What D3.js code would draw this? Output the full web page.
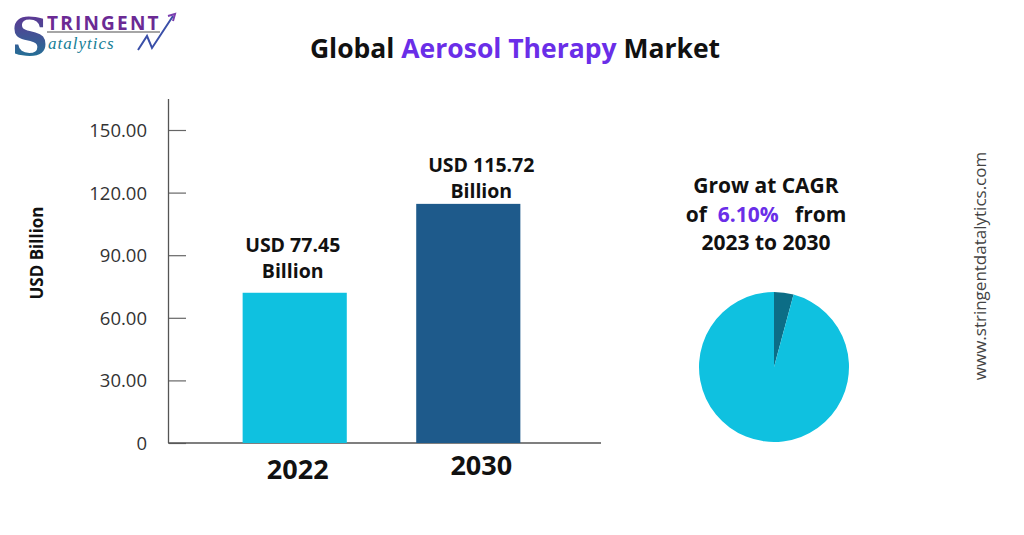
<!DOCTYPE html>
<html><head><meta charset="utf-8">
<script src="https://cdn.jsdelivr.net/npm/d3@7"></script>
<style>body{margin:0;background:#fff}svg{display:block}</style>
</head><body>
<svg id="c" width="1024" height="535"></svg>
<script>
const categories = ["2022", "2030"];
const barValues = [72.0, 114.6];
const barLabels = ["USD 77.45", "USD 115.72"];
const yTicks = [0, 30, 60, 90, 120, 150];
const pieValues = [4.2, 95.8];
const cagrText = "6.10%";
const barColors = ["#0FC1E0", "#1E5A8B"];
const pieColors = ["#0C6D86", "#0FC1E0"];

const svg = d3.select("#c");
const FONT = "'Open Sans', Lato, sans-serif";

// Logo
const lg = svg.append("g");
const defs = svg.append("defs");
const grad = defs.append("linearGradient").attr("id","sg").attr("x1","0").attr("y1","0").attr("x2","0").attr("y2","1");
grad.append("stop").attr("offset","0%").attr("stop-color","#6b2a94");
grad.append("stop").attr("offset","100%").attr("stop-color","#157e96");
lg.append("text").attr("x",11).attr("y",55).attr("font-family","'DejaVu Serif', serif").attr("font-size",52).attr("font-weight","bold").attr("fill","url(#sg)").text("S");
lg.append("text").attr("x",47).attr("y",30).attr("font-family",FONT).attr("font-weight",700).attr("font-size",19).attr("letter-spacing",2.2).attr("fill","#6b2a94").text("TRINGENT");
lg.append("line").attr("x1",47).attr("x2",160).attr("y1",32).attr("y2",32).attr("stroke","#888").attr("stroke-width",1.5);
lg.append("text").attr("x",48).attr("y",49).attr("font-family","'Liberation Serif', serif").attr("font-style","italic").attr("font-size",17).attr("letter-spacing",1).attr("fill","#157e96").text("atalytics");
lg.append("path").attr("d","M138,50 L147,36 L152,48 L173,16").attr("fill","none").attr("stroke","#3a4fa8").attr("stroke-width",2);
lg.append("path").attr("d","M168,16 L175,14 L173,21").attr("fill","none").attr("stroke","#7b3fb0").attr("stroke-width",2);

// Title
const t = svg.append("text").attr("x",515).attr("y",58).attr("text-anchor","middle")
  .attr("font-family",FONT).attr("font-weight",700).attr("font-size",26.5).attr("fill","#111");
t.append("tspan").text("Global ");
t.append("tspan").attr("fill","#6a2ee8").text("Aerosol Therapy");
t.append("tspan").text(" Market");

// Scales
const y = d3.scaleLinear().domain([0,150]).range([443,130]);
const x = d3.scaleBand().domain(categories).range([168,595]).paddingInner(0.4).paddingOuter(0.43);

// Y axis
const yAxis = d3.axisRight(y).tickValues(yTicks).tickSize(17).tickFormat(d => d===0 ? "0" : d3.format(".2f")(d));
const ya = svg.append("g").attr("transform","translate(169,0)").call(yAxis);
ya.select(".domain").remove();
ya.selectAll(".tick line").attr("stroke","#666").attr("stroke-width",1.2);
ya.selectAll(".tick text").attr("x",-22).attr("text-anchor","end").attr("font-family",FONT).attr("font-size",18.5).attr("fill","#333").attr("dy","0.35em");
svg.append("line").attr("x1",168.5).attr("x2",168.5).attr("y1",99).attr("y2",443).attr("stroke","#555").attr("stroke-width",1.3);
svg.append("line").attr("x1",168).attr("x2",601).attr("y1",443).attr("y2",443).attr("stroke","#555").attr("stroke-width",1.3);

svg.append("text").attr("transform","translate(43,253) rotate(-90)").attr("text-anchor","middle")
  .attr("font-family",FONT).attr("font-weight",700).attr("font-size",17).attr("fill","#111").text("USD Billion");

// Bars
svg.selectAll("rect.bar").data(categories).join("rect").attr("class","bar")
  .attr("x", d => x(d)).attr("width", x.bandwidth())
  .attr("y", (d,i) => y(barValues[i])).attr("height", (d,i) => y(0) - y(barValues[i]))
  .attr("fill", (d,i) => barColors[i]);

// Bar labels
categories.forEach((c,i) => {
  const cx = x(c) + x.bandwidth()/2 + (i===0 ? -2 : 13);
  const top = y(barValues[i]);
  const off = i===0 ? 41 : 32;
  const g = svg.append("text").attr("text-anchor","middle").attr("font-family",FONT).attr("font-weight",700).attr("font-size",19.5).attr("fill","#111");
  g.append("tspan").attr("x",cx).attr("y",top-off).text(barLabels[i]);
  g.append("tspan").attr("x",cx).attr("y",top-off+26).text("Billion");
  svg.append("text").attr("x", x(c) + x.bandwidth()/2 + (i===0 ? 3 : 13)).attr("y", i===0 ? 479 : 475).attr("text-anchor","middle")
    .attr("font-family",FONT).attr("font-weight",700).attr("font-size",27).attr("fill","#111").text(c);
});

// CAGR text
const ct = svg.append("text").attr("text-anchor","middle").attr("font-family",FONT).attr("font-weight",700).attr("font-size",21).attr("fill","#111");
ct.append("tspan").attr("x",766).attr("y",193).text("Grow at CAGR");
ct.append("tspan").attr("x",766).attr("y",222).text("of\u00a0\u00a0");
ct.append("tspan").attr("fill","#6a2ee8").text(cagrText);
ct.append("tspan").text("\u00a0\u00a0\u00a0from");
ct.append("tspan").attr("x",766).attr("y",250).text("2023 to 2030");

// Pie
const pie = d3.pie().sort(null)(pieValues);
const arc = d3.arc().innerRadius(0).outerRadius(75);
svg.append("g").attr("transform","translate(774,367)").selectAll("path").data(pie).join("path")
  .attr("d", arc).attr("fill", (d,i) => pieColors[i]);

// Watermark
svg.append("text").attr("transform","translate(986,266) rotate(-90)").attr("text-anchor","middle")
  .attr("font-family",FONT).attr("font-size",17).attr("fill","#444").text("www.stringentdatalytics.com");
</script>
</body></html>
